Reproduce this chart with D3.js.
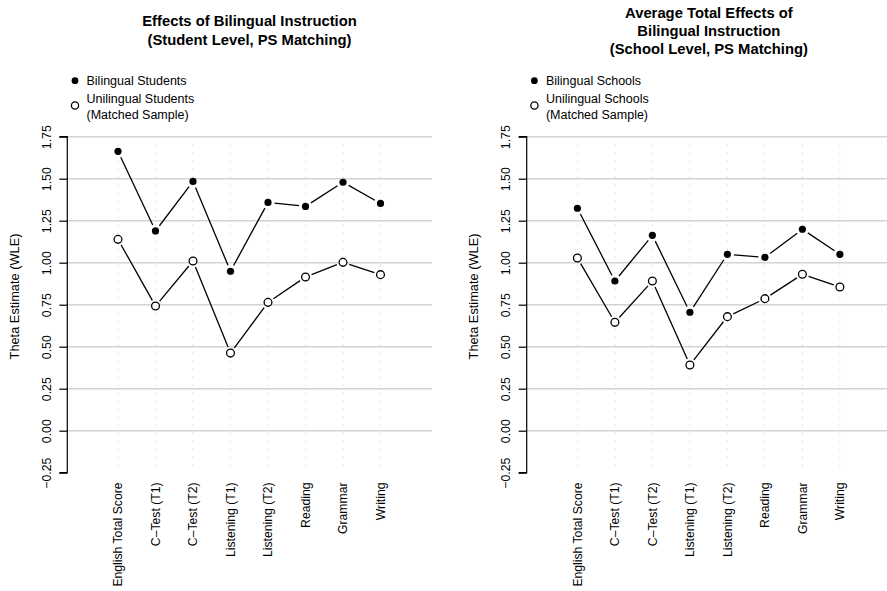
<!DOCTYPE html>
<html>
<head>
<meta charset="utf-8">
<script src="https://cdn.jsdelivr.net/npm/d3@7"></script>
<style>
  html, body { margin: 0; padding: 0; background: #fff; }
  svg { display: block; font-family: "Liberation Sans", Arial, Helvetica, sans-serif; }
</style>
</head>
<body>
<svg id="chart" width="887" height="591"></svg>
<script>
// ---------- data ----------
const categories = ["English Total Score", "C\u2013Test (T1)", "C\u2013Test (T2)", "Listening (T1)",
                    "Listening (T2)", "Reading", "Grammar", "Writing"];
const yTicks = [-0.25, 0, 0.25, 0.5, 0.75, 1.0, 1.25, 1.5, 1.75];
const yTickLabels = ["\u22120.25", "0.00", "0.25", "0.50", "0.75", "1.00", "1.25", "1.50", "1.75"];
const gridValues = [0, 0.25, 0.5, 0.75, 1.0, 1.25, 1.5, 1.75];

const studentBilingual  = [1.663, 1.189, 1.484, 0.949, 1.359, 1.335, 1.479, 1.353];
const studentUnilingual = [1.139, 0.742, 1.010, 0.462, 0.764, 0.915, 1.002, 0.929];
const schoolBilingual   = [1.324, 0.891, 1.163, 0.705, 1.050, 1.032, 1.199, 1.050];
const schoolUnilingual  = [1.028, 0.645, 0.891, 0.391, 0.679, 0.786, 0.931, 0.855];

const leftTitle  = ["Effects of Bilingual Instruction", "(Student Level, PS Matching)"];
const rightTitle = ["Average Total Effects of", "Bilingual Instruction", "(School Level, PS Matching)"];
const leftLegend  = [["Bilingual Students"], ["Unilingual Students", "(Matched Sample)"]];
const rightLegend = [["Bilingual Schools"], ["Unilingual Schools", "(Matched Sample)"]];
const yTitle = "Theta Estimate (WLE)";

// ---------- drawing ----------
const svg = d3.select("#chart");

function panel(ox, titleLines, titleBaselines, legend, filledVals, openVals) {
  const g = svg.append("g").attr("transform", `translate(${ox},0)`);
  const axisX = 67.3, plotRight = 432;
  const x = d3.scalePoint().domain(categories).range([118, 380.5]);
  const y = d3.scaleLinear().domain([-0.25, 1.75]).range([472.7, 136.7]);

  // vertical dotted grid
  g.selectAll("line.vgrid").data(categories).join("line")
    .attr("x1", d => x(d)).attr("x2", d => x(d))
    .attr("y1", y(1.75)).attr("y2", y(-0.25))
    .attr("stroke", "#c8c8c8").attr("stroke-width", 1)
    .attr("stroke-dasharray", "1,7");

  // horizontal grid
  g.selectAll("line.hgrid").data(gridValues).join("line")
    .attr("x1", axisX).attr("x2", plotRight)
    .attr("y1", d => y(d)).attr("y2", d => y(d))
    .attr("stroke", "#d3d3d3").attr("stroke-width", 1.4);

  // y axis
  const axis = g.append("g").attr("transform", `translate(${axisX},0)`)
    .call(d3.axisLeft(y).tickValues(yTicks).tickSize(8).tickFormat((d, i) => yTickLabels[i]));
  axis.attr("font-size", 12.3).attr("font-family", null);
  axis.select(".domain").attr("d", `M-8,${y(1.75)}H0V${y(-0.25)}H-8`).attr("stroke", "#000").attr("stroke-width", 1.2);
  axis.selectAll(".tick line").attr("stroke", "#000").attr("stroke-width", 1.2);
  axis.selectAll(".tick text")
    .attr("x", null).attr("dy", null)
    .attr("transform", "translate(-16.8,0) rotate(-90)")
    .attr("text-anchor", "middle")
    .attr("font-size", 12.3)
    .attr("fill", "#000");

  // y title
  g.append("text")
    .attr("transform", `translate(18.5,296.5) rotate(-90)`)
    .attr("text-anchor", "middle").attr("font-size", 12.8).text(yTitle);

  // x labels
  g.selectAll("text.xlab").data(categories).join("text")
    .attr("transform", d => `translate(${x(d) + 4.4},482.5) rotate(-90)`)
    .attr("text-anchor", "end").attr("font-size", 12.2).text(d => d);

  // title
  g.selectAll("text.title").data(titleLines).join("text")
    .attr("x", 249.5).attr("y", (d, i) => titleBaselines[i])
    .attr("text-anchor", "middle").attr("font-size", 14.8).attr("font-weight", "bold").text(d => d);

  // legend
  g.append("circle").attr("cx", 75).attr("cy", 80.7).attr("r", 3.4).attr("fill", "#000");
  g.append("circle").attr("cx", 75).attr("cy", 105.5).attr("r", 3.6)
    .attr("fill", "#fff").attr("stroke", "#000").attr("stroke-width", 1.3);
  g.append("text").attr("x", 86.5).attr("y", 85).attr("font-size", 12.5).text(legend[0][0]);
  g.selectAll("text.leg2").data(legend[1]).join("text")
    .attr("x", 86.5).attr("y", (d, i) => 102.8 + i * 15.7).attr("font-size", 12.5).text(d => d);

  // series (type "b": lines with gaps around points)
  const gap = 6.5;
  function series(vals, filled) {
    const pts = vals.map((v, i) => [x(categories[i]), y(v)]);
    const segs = [];
    for (let i = 0; i < pts.length - 1; i++) {
      const [x1, y1] = pts[i], [x2, y2] = pts[i + 1];
      const len = Math.hypot(x2 - x1, y2 - y1);
      if (len <= 2 * gap) continue;
      const ux = (x2 - x1) / len, uy = (y2 - y1) / len;
      segs.push([x1 + ux * gap, y1 + uy * gap, x2 - ux * gap, y2 - uy * gap]);
    }
    g.append("g").selectAll("line").data(segs).join("line")
      .attr("x1", d => d[0]).attr("y1", d => d[1]).attr("x2", d => d[2]).attr("y2", d => d[3])
      .attr("stroke", "#000").attr("stroke-width", 1.3);
    g.append("g").selectAll("circle").data(pts).join("circle")
      .attr("cx", d => d[0]).attr("cy", d => d[1])
      .attr("r", filled ? 3.6 : 3.9)
      .attr("fill", filled ? "#000" : "#fff")
      .attr("stroke", filled ? "none" : "#000").attr("stroke-width", 1.3);
  }
  series(filledVals, true);
  series(openVals, false);
}

panel(0, leftTitle, [26, 44.5], leftLegend, studentBilingual, studentUnilingual);
panel(459.4, rightTitle, [17.5, 35.8, 54.2], rightLegend, schoolBilingual, schoolUnilingual);
</script>
</body>
</html>
